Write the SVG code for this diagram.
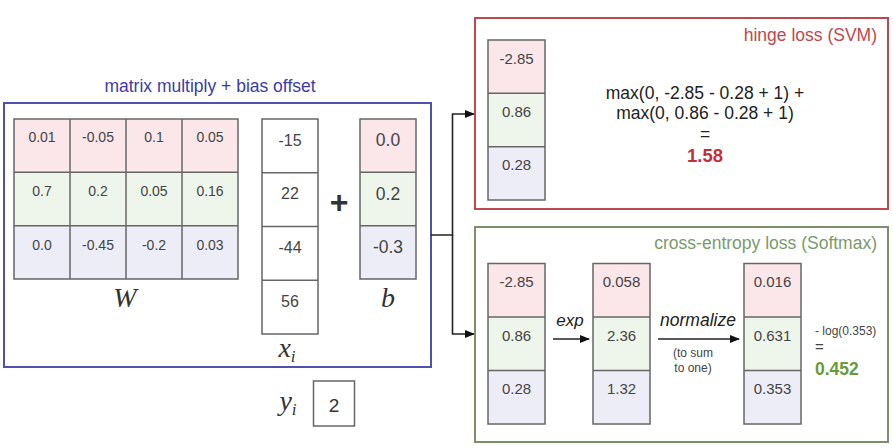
<svg xmlns="http://www.w3.org/2000/svg" width="893" height="448" viewBox="0 0 893 448">
<defs>
<style>
.t{font-family:"Liberation Sans",Arial,sans-serif;fill:#444;text-anchor:middle}
.c{stroke:#666;stroke-width:1.5}
.r{fill:#fbe6ea}
.g{fill:#eef5ea}
.b{fill:#ededf8}
.w{fill:#fff}
.m{font-family:"Liberation Serif","Times New Roman",serif;font-style:italic;fill:#333;text-anchor:middle}
.conn{fill:none;stroke:#222;stroke-width:1.6}
</style>
<marker id="ah" markerWidth="10" markerHeight="8" refX="9" refY="4" orient="auto" markerUnits="userSpaceOnUse">
<path d="M0,0 L10,4 L0,8 z" fill="#111"/>
</marker>
</defs>
<rect width="893" height="448" fill="#fff"/>

<g id="linear">
<text x="210" y="92" class="t" style="fill:#3c3ca8;font-size:17.5px">matrix multiply + bias offset</text>
<rect x="4" y="103" width="427" height="264" fill="none" stroke="#5050b0" stroke-width="2"/>
<g id="W">
<rect x="14" y="119" width="224" height="53.3" class="r"/>
<rect x="14" y="172.3" width="224" height="53.4" class="g"/>
<rect x="14" y="225.7" width="224" height="53.3" class="b"/>
<g class="c" fill="none">
<rect x="14" y="119" width="224" height="160"/>
<line x1="70" y1="119" x2="70" y2="279"/><line x1="126" y1="119" x2="126" y2="279"/><line x1="182" y1="119" x2="182" y2="279"/>
<line x1="14" y1="172.3" x2="238" y2="172.3"/><line x1="14" y1="225.7" x2="238" y2="225.7"/>
</g>
<g class="t" style="font-size:14px">
<text x="42" y="142">0.01</text><text x="98" y="142">-0.05</text><text x="154" y="142">0.1</text><text x="210" y="142">0.05</text>
<text x="42" y="196">0.7</text><text x="98" y="196">0.2</text><text x="154" y="196">0.05</text><text x="210" y="196">0.16</text>
<text x="42" y="249.5">0.0</text><text x="98" y="249.5">-0.45</text><text x="154" y="249.5">-0.2</text><text x="210" y="249.5">0.03</text>
</g>
<text x="125" y="307" class="m" style="font-size:28px">W</text>
</g>
<g id="x">
<rect x="262" y="119" width="56" height="215" class="w c"/>
<g class="c"><line x1="262" y1="172.75" x2="318" y2="172.75"/><line x1="262" y1="226.5" x2="318" y2="226.5"/><line x1="262" y1="280.25" x2="318" y2="280.25"/></g>
<g class="t" style="font-size:16px">
<text x="290" y="145.5">-15</text><text x="290" y="199">22</text><text x="290" y="253">-44</text><text x="290" y="306.5">56</text>
</g>
<text x="287" y="357" class="m" style="font-size:28px">x<tspan font-size="17" dy="5">i</tspan></text>
</g>
<text x="339" y="213" class="t" style="font-size:32px;font-weight:bold;fill:#333">+</text>
<g id="b">
<rect x="360" y="119" width="56" height="53.3" class="r"/>
<rect x="360" y="172.3" width="56" height="53.4" class="g"/>
<rect x="360" y="225.7" width="56" height="53.3" class="b"/>
<g class="c" fill="none"><rect x="360" y="119" width="56" height="160"/><line x1="360" y1="172.3" x2="416" y2="172.3"/><line x1="360" y1="225.7" x2="416" y2="225.7"/></g>
<g class="t" style="font-size:17.5px">
<text x="388" y="146">0.0</text><text x="388" y="199.5">0.2</text><text x="388" y="252.5">-0.3</text>
</g>
<text x="388" y="307" class="m" style="font-size:28px">b</text>
</g>
</g>

<g id="yi">
<text x="288" y="410" class="m" style="font-size:28px">y<tspan font-size="17" dy="5">i</tspan></text>
<rect x="313.5" y="381" width="41" height="45" fill="#fff" stroke="#666" stroke-width="1.5"/>
<text x="334" y="412" class="t" style="font-size:19px;fill:#333">2</text>
</g>

<g id="connectors">
<path class="conn" d="M431,235 H452.5 V114 H474" marker-end="url(#ah)"/>
<path class="conn" d="M452.5,235 V334 H474" marker-end="url(#ah)"/>
</g>

<g id="hinge">
<rect x="475" y="18" width="413" height="191" fill="none" stroke="#c0474f" stroke-width="2"/>
<text x="877" y="41" class="t" style="text-anchor:end;fill:#c0474f;font-size:17.5px">hinge loss (SVM)</text>
<rect x="488" y="40" width="57" height="53.3" class="r"/>
<rect x="488" y="93.3" width="57" height="53.4" class="g"/>
<rect x="488" y="146.7" width="57" height="53.3" class="b"/>
<g class="c" fill="none"><rect x="488" y="40" width="57" height="160"/><line x1="488" y1="93.3" x2="545" y2="93.3"/><line x1="488" y1="146.7" x2="545" y2="146.7"/></g>
<g class="t" style="font-size:15px">
<text x="516.5" y="63.5">-2.85</text><text x="516.5" y="117">0.86</text><text x="516.5" y="170">0.28</text>
</g>
<g class="t" style="font-size:17.5px;fill:#222">
<text x="705" y="99">max(0, -2.85 - 0.28 + 1) +</text>
<text x="705" y="119">max(0, 0.86 - 0.28 + 1)</text>
<text x="705" y="140">=</text>
</g>
<text x="705" y="162" class="t" style="font-size:18.5px;font-weight:bold;fill:#c0303a">1.58</text>
</g>

<g id="softmax">
<rect x="475" y="227" width="413" height="215" fill="none" stroke="#7a8f6a" stroke-width="2"/>
<text x="877" y="248.5" class="t" style="text-anchor:end;fill:#7a9a6c;font-size:17.5px">cross-entropy loss (Softmax)</text>
<g id="scores">
<rect x="488" y="263.5" width="57" height="53.5" class="r"/>
<rect x="488" y="317" width="57" height="53.5" class="g"/>
<rect x="488" y="370.5" width="57" height="53.5" class="b"/>
<g class="c" fill="none"><rect x="488" y="263.5" width="57" height="160.5"/><line x1="488" y1="317" x2="545" y2="317"/><line x1="488" y1="370.5" x2="545" y2="370.5"/></g>
<g class="t" style="font-size:15px"><text x="516.5" y="287">-2.85</text><text x="516.5" y="340.5">0.86</text><text x="516.5" y="393.5">0.28</text></g>
</g>
<g id="expd">
<rect x="593" y="263.5" width="57" height="53.5" class="r"/>
<rect x="593" y="317" width="57" height="53.5" class="g"/>
<rect x="593" y="370.5" width="57" height="53.5" class="b"/>
<g class="c" fill="none"><rect x="593" y="263.5" width="57" height="160.5"/><line x1="593" y1="317" x2="650" y2="317"/><line x1="593" y1="370.5" x2="650" y2="370.5"/></g>
<g class="t" style="font-size:15px"><text x="621.5" y="287">0.058</text><text x="621.5" y="340.5">2.36</text><text x="621.5" y="393.5">1.32</text></g>
</g>
<g id="probs">
<rect x="744" y="263.5" width="57" height="53.5" class="r"/>
<rect x="744" y="317" width="57" height="53.5" class="g"/>
<rect x="744" y="370.5" width="57" height="53.5" class="b"/>
<g class="c" fill="none"><rect x="744" y="263.5" width="57" height="160.5"/><line x1="744" y1="317" x2="801" y2="317"/><line x1="744" y1="370.5" x2="801" y2="370.5"/></g>
<g class="t" style="font-size:15px"><text x="772.5" y="287">0.016</text><text x="772.5" y="340.5">0.631</text><text x="772.5" y="393.5">0.353</text></g>
</g>
<path class="conn" d="M553,339 H589" marker-end="url(#ah)"/>
<text x="570" y="326" class="t" style="font-style:italic;font-size:17px;fill:#222">exp</text>
<path class="conn" d="M658,339 H739" marker-end="url(#ah)"/>
<text x="698" y="326" class="t" style="font-style:italic;font-size:17.5px;fill:#222">normalize</text>
<text x="693" y="357" class="t" style="font-size:12px">(to sum</text>
<text x="693" y="372" class="t" style="font-size:12px">to one)</text>
<text x="815" y="335" class="t" style="text-anchor:start;font-size:12px">- log(0.353)</text>
<text x="815" y="352" class="t" style="text-anchor:start;font-size:15px">=</text>
<text x="815" y="375" class="t" style="text-anchor:start;font-size:17.5px;font-weight:bold;fill:#6a9a3c">0.452</text>
</g>
</svg>
